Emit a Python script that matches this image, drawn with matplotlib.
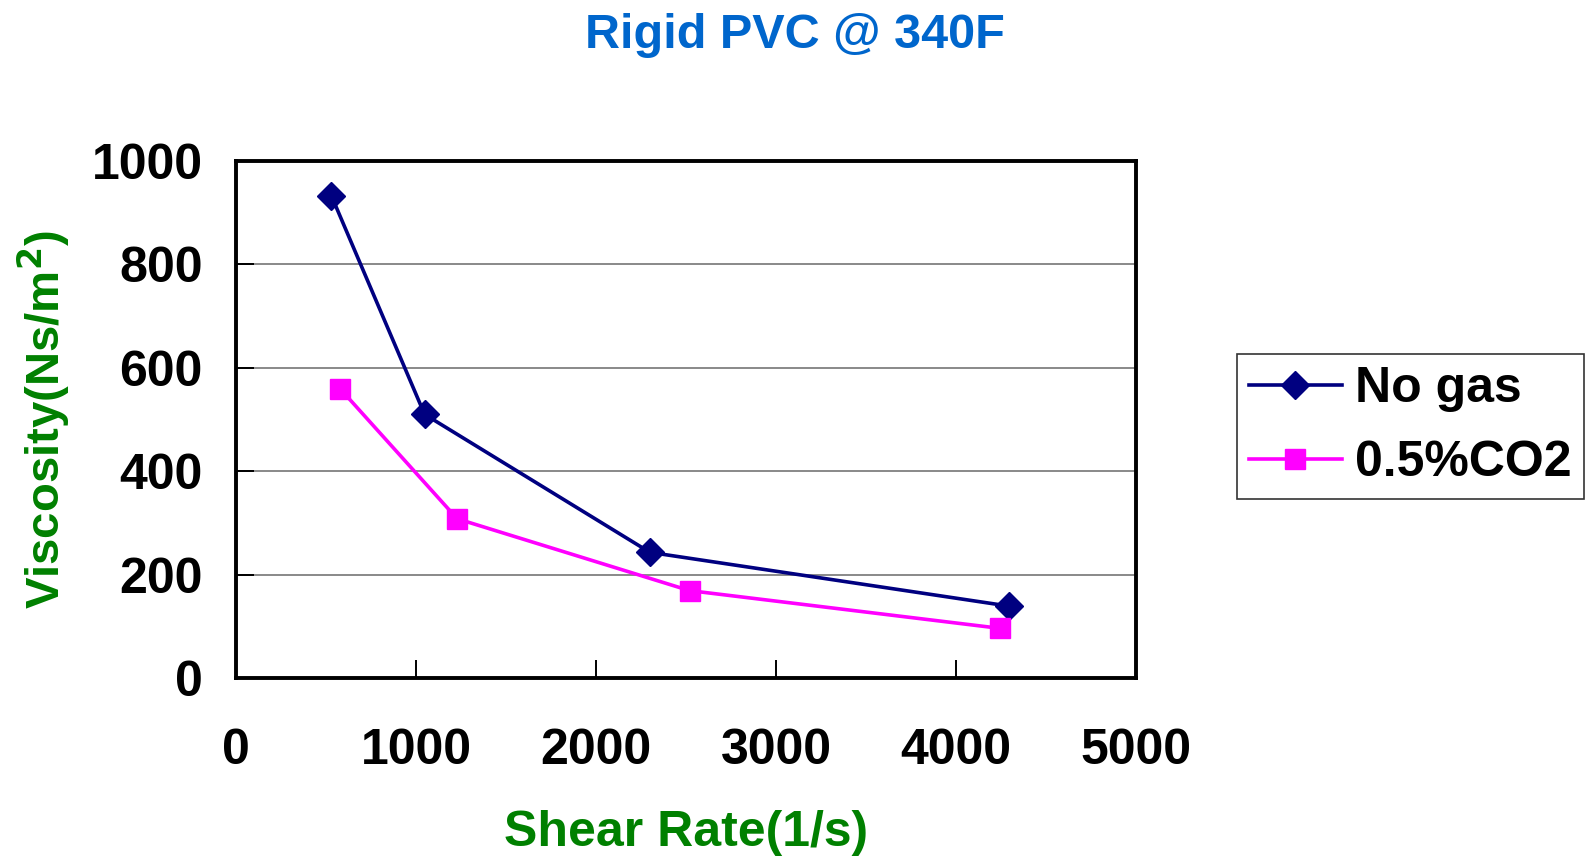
import matplotlib.pyplot as plt

plt.rcParams['font.family'] = ['Liberation Sans', 'DejaVu Sans']
plt.rcParams['font.weight'] = 'bold'
plt.rcParams['mathtext.default'] = 'bf'

shear_nogas = [530, 1048, 2300, 4295]
visc_nogas = [933, 510, 243, 139]
shear_co2 = [580, 1229, 2520, 4245]
visc_co2 = [559, 308, 169, 96]

xticks = [0, 1000, 2000, 3000, 4000, 5000]
yticks = [0, 200, 400, 600, 800, 1000]

fig = plt.figure(figsize=(15.9, 8.57), dpi=100)
ax = fig.add_axes([0.1484, 0.2089, 0.5660, 0.6032])

ax.plot(shear_nogas, visc_nogas, color='#000080', lw=2.6, marker='D', ms=14,
        label='No gas', zorder=3)
ax.plot(shear_co2, visc_co2, color='#FF00FF', lw=2.6, marker='s', ms=15,
        label='0.5%CO2', zorder=3)

ax.set_xlim(0, 5000)
ax.set_ylim(0, 1000)
ax.set_xticks(xticks)
ax.set_yticks(yticks)
ax.yaxis.grid(True, color='#808080', lw=1.3)
ax.set_axisbelow(True)
for s in ax.spines.values():
    s.set_linewidth(2.8)
ax.tick_params(axis='both', labelsize=36, width=1.4, length=13, direction='in')
ax.tick_params(axis='x', pad=36)
ax.tick_params(axis='y', pad=24)

ax.set_xlabel('Shear Rate(1/s)', fontsize=36, color='#008000', fontweight='bold', labelpad=26)
ax.set_ylabel('Viscosity(Ns/m$^{2}$)', fontsize=34, color='#008000', fontweight='bold', labelpad=14)
fig.suptitle('Rigid PVC @ 340F', fontsize=35, color='#0066CC', fontweight='bold', y=0.985)

leg = ax.legend(loc='center left', bbox_to_anchor=(1.112, 0.487), borderaxespad=0,
                fontsize=36, frameon=True, fancybox=False, edgecolor='black',
                handlelength=1.85, borderpad=0.25, labelspacing=0.56, handletextpad=0.27)
leg.get_frame().set_linewidth(1.2)

fig.savefig('out.png', dpi=100)
